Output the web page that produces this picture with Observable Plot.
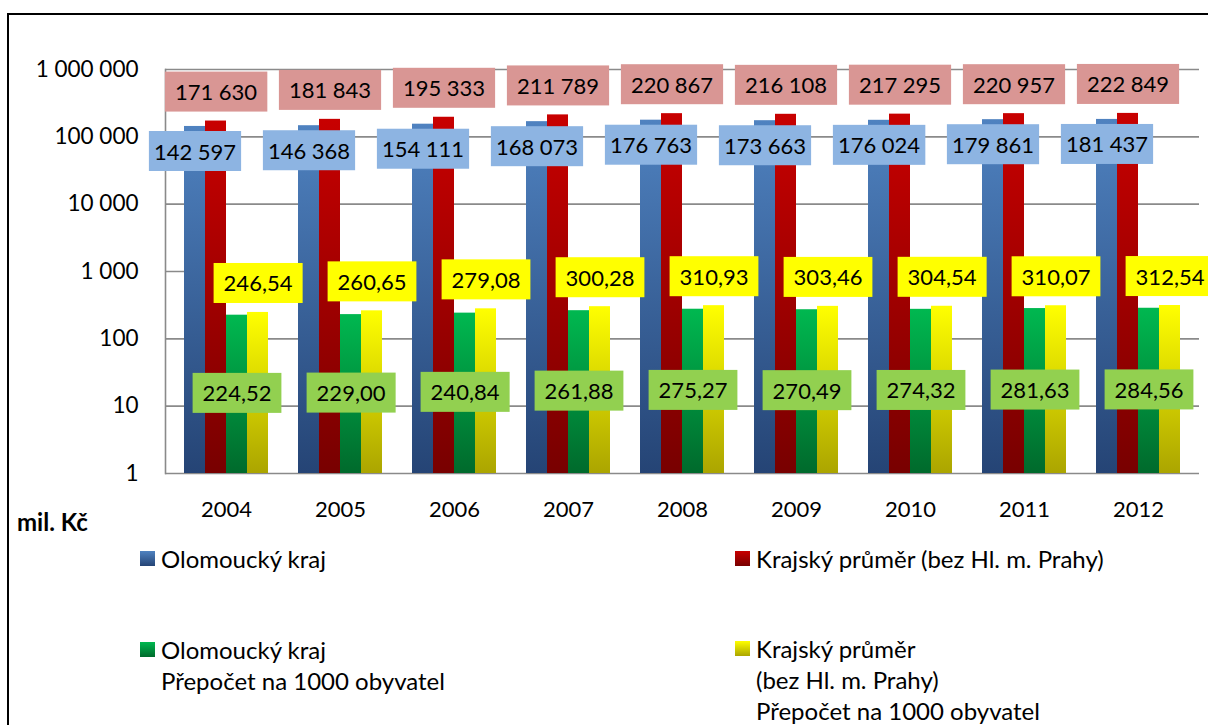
<!DOCTYPE html>
<html>
<head>
<meta charset="utf-8">
<script src="https://cdn.jsdelivr.net/npm/d3@7"></script>
<script src="https://cdn.jsdelivr.net/npm/@observablehq/plot@0.6"></script>
<style>
  body { margin: 0; background: #fff; font-family: Lato, "Open Sans", sans-serif; }
  #wrap { position: relative; width: 1208px; height: 725px; overflow: hidden; background: #fff; }
  #frame { position: absolute; left: 7px; top: 13px; width: 1400px; height: 900px; border: 2px solid #000; pointer-events: none; z-index: 5; }
  .layer { position: absolute; left: 0; top: 0; }
  #unit { position: absolute; left: 17px; top: 508px; font-weight: bold; font-size: 24px; line-height: 28px; color: #000; }
  .leg { position: absolute; font-size: 24px; line-height: 31px; color: #000; }
  .leg .sw { position: absolute; left: 0; top: 8px; width: 15px; height: 15px; }
  .leg .tx { position: absolute; left: 21px; top: 0; white-space: pre; }
</style>
</head>
<body>
<div id="wrap">
  <div id="back" class="layer"></div>
  <div id="chart" class="layer"></div>
  <div id="unit">mil. Kč</div>
  <div id="legend"></div>
  <div id="frame"></div>
</div>
<script>
// ---- data ----
const years = ["2004", "2005", "2006", "2007", "2008", "2009", "2010", "2011", "2012"];
const olomoucky = [142597, 146368, 154111, 168073, 176763, 173663, 176024, 179861, 181437];
const krajsky = [171630, 181843, 195333, 211789, 220867, 216108, 217295, 220957, 222849];
const olomouckyPer1000 = [224.52, 229.00, 240.84, 261.88, 275.27, 270.49, 274.32, 281.63, 284.56];
const krajskyPer1000 = [246.54, 260.65, 279.08, 300.28, 310.93, 303.46, 304.54, 310.07, 312.54];
const yTicks = [1, 10, 100, 1000, 10000, 100000, 1000000];
const seriesKeys = ["olo", "kraj", "oloPer", "krajPer"];
const seriesNames = [
  "Olomoucký kraj",
  "Krajský průměr (bez Hl. m. Prahy)",
  "Olomoucký kraj\nPřepočet na 1000 obyvatel",
  "Krajský průměr\n(bez Hl. m. Prahy)\nPřepočet na 1000 obyvatel"
];

const fmtInt = d => d3.format(",")(d).replace(/,/g, "\u00a0");
const fmtDec = d => d3.format(".2f")(d).replace(".", ",");

const series = [
  {key: seriesKeys[0], values: olomoucky, top: "#4F82C0", bot: "#254475", box: "#8DB4E2"},
  {key: seriesKeys[1], values: krajsky, top: "#C80000", bot: "#780000", box: "#D99694"},
  {key: seriesKeys[2], values: olomouckyPer1000, top: "#00B850", bot: "#006A2C", box: "#92D050"},
  {key: seriesKeys[3], values: krajskyPer1000, top: "#FFFF00", bot: "#ABA500", box: "#FFFF00"}
];
const rowsOf = s => years.map((y, i) => ({year: y, series: s.key, value: s.values[i]}));

const gridColor = "#8a8a8a";
const W = 1208, H = 530;
const margins = {marginLeft: 165, marginRight: 9, marginTop: 69, marginBottom: 57};
const style = {fontFamily: "Lato, 'Open Sans', sans-serif", fontSize: "22px", color: "#000", background: "transparent", overflow: "visible"};
const yScale = {type: "log", domain: [1, 1000000], axis: null};

// background layer: grid, y axis line and tick labels
const back = Plot.plot({
  width: W, height: H, ...margins, style,
  y: yScale,
  marks: [
    Plot.ruleY(yTicks, {stroke: gridColor, strokeWidth: 1.6}),
    Plot.frame({anchor: "left", stroke: gridColor, strokeWidth: 1.6}),
    Plot.text(yTicks, {y: d => d, text: fmtInt, frameAnchor: "left", textAnchor: "end", dx: -27, fontSize: 22.5, fill: "#000"})
  ]
});
document.getElementById("back").appendChild(back);

// foreground layer: grouped bars and labels
const svg = Plot.plot({
  width: W, height: H, ...margins, style,
  fx: {domain: years, paddingInner: 0.26, paddingOuter: 0.13, axis: "bottom", tickSize: 0, tickPadding: 28, label: null},
  x: {domain: seriesKeys, padding: 0, axis: null},
  y: yScale,
  marks: [
    ...series.map((s, i) => Plot.barY(rowsOf(s), {fx: "year", x: "series", y1: 1, y2: "value", fill: `url(#grad${i})`})),
    Plot.text(rowsOf(series[0]), {fx: "year", x: "series", y: "value", text: d => fmtInt(d.value), dy: 26, fontSize: 22, fill: "#000", ariaDescription: "lbl0"}),
    Plot.text(rowsOf(series[2]), {fx: "year", x: "series", y: d => Math.sqrt(d.value), text: d => fmtDec(d.value), fontSize: 22, fill: "#000", ariaDescription: "lbl2"}),
    Plot.text(rowsOf(series[1]), {fx: "year", x: "series", y: "value", text: d => fmtInt(d.value), dy: -28, fontSize: 22, fill: "#000", ariaDescription: "lbl1"}),
    Plot.text(rowsOf(series[3]), {fx: "year", x: "series", y: "value", text: d => fmtDec(d.value), dy: -28, fontSize: 22, fill: "#000", ariaDescription: "lbl3"})
  ]
});
document.getElementById("chart").appendChild(svg);

// gradients
const ns = "http://www.w3.org/2000/svg";
const defs = document.createElementNS(ns, "defs");
series.forEach((s, i) => {
  const lg = document.createElementNS(ns, "linearGradient");
  lg.setAttribute("id", `grad${i}`);
  lg.setAttribute("x1", "0"); lg.setAttribute("y1", "0");
  lg.setAttribute("x2", "0"); lg.setAttribute("y2", "1");
  [[0, s.top], [1, s.bot]].forEach(([o, c]) => {
    const st = document.createElementNS(ns, "stop");
    st.setAttribute("offset", o);
    st.setAttribute("stop-color", c);
    lg.appendChild(st);
  });
  defs.appendChild(lg);
});
svg.insertBefore(defs, svg.firstChild);

// label boxes behind each value label
const pads = [5, 10, 10, 10];
[0, 1, 2, 3].forEach(i => {
  svg.querySelectorAll(`g[aria-description="lbl${i}"] text`).forEach(t => {
    const b = t.getBBox();
    const h = 40;
    const r = document.createElementNS(ns, "rect");
    r.setAttribute("x", b.x - pads[i]);
    r.setAttribute("width", b.width + 2 * pads[i]);
    r.setAttribute("y", b.y + b.height / 2 - h / 2);
    r.setAttribute("height", h);
    r.setAttribute("fill", series[i].box);
    r.setAttribute("stroke", "none");
    const tr = t.getAttribute("transform");
    if (tr) r.setAttribute("transform", tr);
    t.parentNode.insertBefore(r, t);
  });
});

// legend
const legPos = [
  {left: 140, top: 543},
  {left: 735, top: 543},
  {left: 140, top: 634},
  {left: 735, top: 633}
];
const legend = document.getElementById("legend");
series.forEach((s, i) => {
  const d = document.createElement("div");
  d.className = "leg";
  d.style.left = legPos[i].left + "px";
  d.style.top = legPos[i].top + "px";
  const sw = document.createElement("span");
  sw.className = "sw";
  sw.style.background = `linear-gradient(${s.top}, ${s.bot})`;
  const tx = document.createElement("div");
  tx.className = "tx";
  tx.textContent = seriesNames[i];
  d.appendChild(sw);
  d.appendChild(tx);
  legend.appendChild(d);
});
</script>
</body>
</html>
